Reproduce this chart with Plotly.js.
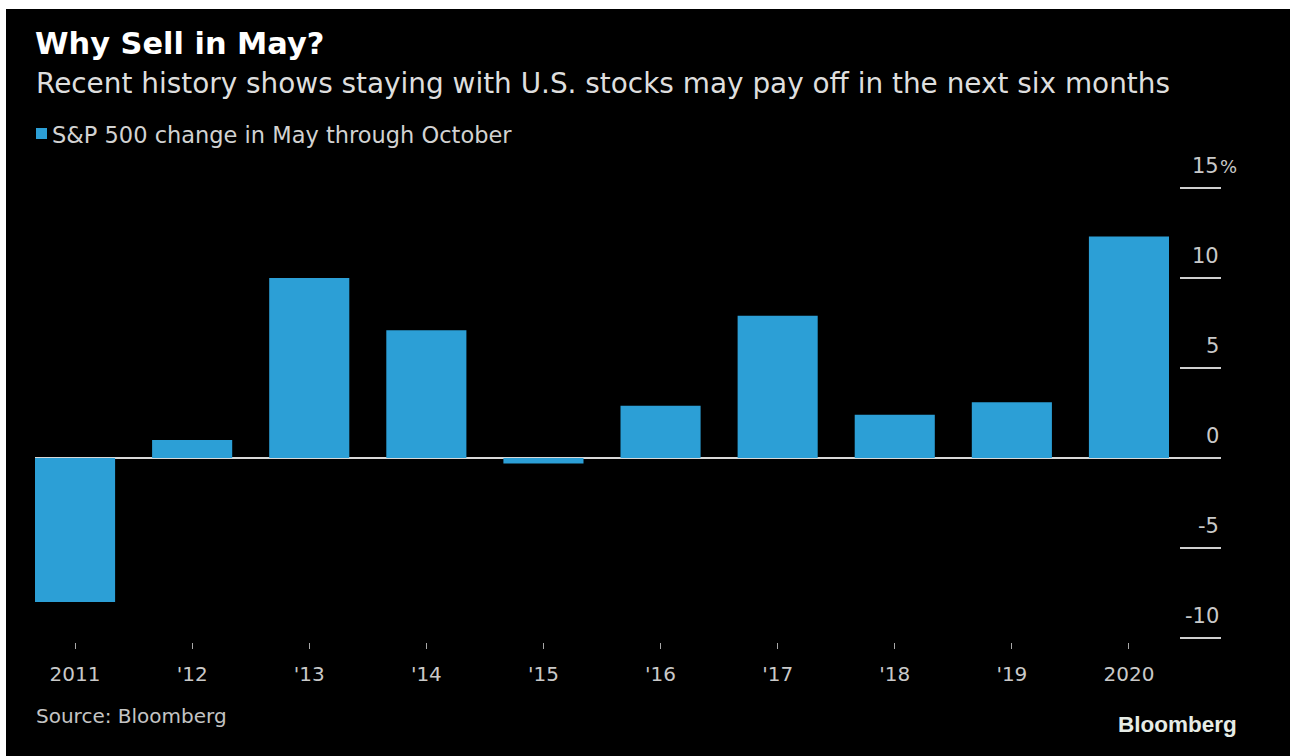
<!DOCTYPE html>
<html>
<head>
<meta charset="utf-8">
<script src="https://cdn.plot.ly/plotly-3.0.1.min.js"></script>
<style>
  html, body { margin: 0; padding: 0; background: #ffffff; }
  #chart { position: absolute; left: 6px; top: 9px; width: 1284px; height: 747px; }
</style>
</head>
<body>
<div id="chart"></div>
<script>
// S&P 500 change from May through October, by year (percent)
const years = ["2011", "'12", "'13", "'14", "'15", "'16", "'17", "'18", "'19", "2020"];
const changePct = [-8.0, 1.0, 10.0, 7.1, -0.3, 2.9, 7.9, 2.4, 3.1, 12.3];
const seriesName = "S&P 500 change in May through October";

const yTickVals = [-10, -5, 0, 5, 10, 15];
const yTickText = ["-10", "-5", "0", "5", "10", "15"];
const yUnit = "%";

const titleText = "Why Sell in May?";
const subtitleText = "Recent history shows staying with U.S. stocks may pay off in the next six months";
const sourceText = "Source: Bloomberg";
const brandText = "Bloomberg";

const BAR_BLUE = "#2c9fd6";
const FONT = "DejaVu Sans, Verdana, sans-serif";

// plot box on the page (absolute pixels); zero sits at y=458, 18 px per point
const PL = 35, PR = 1221, PT = 180, PB = 642;
const ZERO_Y = 458, PX_PER_UNIT = 18;
const px2x = px => (px - PL) / (PR - PL);
const px2y = py => (PB - py) / (PB - PT);

const trace = {
  type: "bar",
  x: years,
  y: changePct,
  name: seriesName,
  marker: { color: BAR_BLUE },
  showlegend: false,
  hoverinfo: "x+y"
};

const annotations = [];

// y tick labels sit just above their tick lines
yTickVals.forEach((v, i) => {
  annotations.push({
    xref: "paper", yref: "y", x: 1, y: v,
    xanchor: "right", yanchor: "middle", yshift: 22,
    text: yTickText[i], showarrow: false,
    font: { family: FONT, size: 21, color: "#c9c9c9" }
  });
});
annotations.push({
  xref: "paper", yref: "y", x: 1, y: yTickVals[yTickVals.length - 1],
  xanchor: "left", yanchor: "middle", yshift: 22, xshift: -3,
  text: yUnit, showarrow: false,
  font: { family: FONT, size: 18, color: "#c9c9c9" }
});

// subtitle
annotations.push({
  xref: "paper", yref: "paper", x: px2x(34), y: px2y(84),
  xanchor: "left", yanchor: "middle",
  text: subtitleText, showarrow: false,
  font: { family: FONT, size: 27.9, color: "#dedede" }
});

// legend text next to the colour key
annotations.push({
  xref: "paper", yref: "paper", x: px2x(50), y: px2y(135),
  xanchor: "left", yanchor: "middle",
  text: seriesName, showarrow: false,
  font: { family: FONT, size: 22.5, color: "#d2d2d2" }
});

// source line
annotations.push({
  xref: "paper", yref: "paper", x: px2x(34), y: px2y(716),
  xanchor: "left", yanchor: "middle",
  text: sourceText, showarrow: false,
  font: { family: FONT, size: 20, color: "#c4c4c4" }
});

// brand mark
annotations.push({
  xref: "paper", yref: "paper", x: px2x(1239), y: px2y(724),
  xanchor: "right", yanchor: "middle",
  text: "<b>" + brandText + "</b>", showarrow: false,
  font: { family: "Liberation Sans, Arial, sans-serif", size: 22.5, color: "#e6ece6" }
});

const shapes = [{
  type: "rect", xref: "paper", yref: "paper",
  x0: px2x(36), x1: px2x(47), y0: px2y(139), y1: px2y(128),
  fillcolor: BAR_BLUE, line: { width: 0 }
}];

const layout = {
  width: 1284,
  height: 747,
  paper_bgcolor: "#000000",
  plot_bgcolor: "#000000",
  margin: { l: PL - 6, r: 1290 - PR, t: PT - 9, b: 756 - PB, pad: 0 },
  bargap: 0.316,
  title: {
    text: "<b>" + titleText + "</b>",
    xref: "paper", x: 0, xanchor: "left",
    yref: "container", y: 1 - (33 - 9) / 747, yanchor: "top",
    font: { family: FONT, size: 30.4, color: "#ffffff" }
  },
  xaxis: {
    type: "category",
    range: [-0.342, 9.786],
    showgrid: false, zeroline: false, showline: false,
    ticks: "outside", ticklen: 6, tickwidth: 1, tickcolor: "#a8a8a8",
    ticklabelstandoff: 8,
    tickfont: { family: FONT, size: 20, color: "#c9c9c9" },
    fixedrange: true
  },
  yaxis: {
    side: "right",
    range: [-(PB - ZERO_Y) / PX_PER_UNIT, (ZERO_Y - PT) / PX_PER_UNIT],
    showgrid: false, showline: false,
    zeroline: true, zerolinecolor: "#d8d8d8", zerolinewidth: 2,
    tickmode: "array", tickvals: yTickVals,
    ticks: "inside", ticklen: 41, tickwidth: 2, tickcolor: "#cfcfcf",
    showticklabels: false,
    fixedrange: true
  },
  annotations: annotations,
  shapes: shapes,
  showlegend: false
};

Plotly.newPlot("chart", [trace], layout, { displayModeBar: false, staticPlot: true });
</script>
</body>
</html>
